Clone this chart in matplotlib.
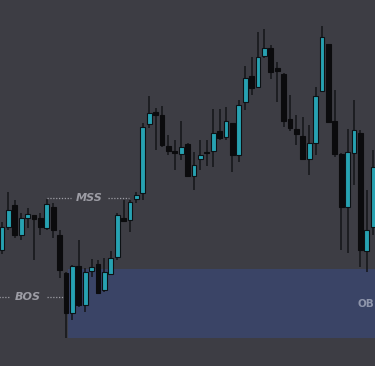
"""Candlestick sketch with MSS / BOS markers and an order block zone."""

import matplotlib
matplotlib.use("Agg")
import matplotlib.pyplot as plt
from matplotlib.patches import Rectangle

# prices in chart units (higher = up)
highs = [144, 174, 166, 153, 158, 151, 153, 167, 163, 136, 94, 101, 126, 98, 107, 106,
         108, 115, 153, 166, 166, 174, 243, 270, 258, 260, 231, 226, 245, 223, 214, 226,
         226, 257, 257, 259, 243, 266, 300, 309, 334, 337, 321, 304, 293, 271, 251, 249,
         241, 279, 340, 322, 276, 213, 237, 266, 236, 176, 216]
lows = [112, 136, 128, 126, 138, 106, 131, 136, 128, 88, 28, 46, 59, 54, 89, 73,
        74, 92, 106, 144, 134, 163, 166, 238, 216, 219, 211, 196, 206, 189, 176, 196,
        200, 199, 226, 226, 194, 204, 256, 271, 278, 308, 287, 264, 239, 235, 221, 206,
        191, 211, 274, 243, 209, 116, 113, 181, 99, 94, 131]
opens = [116, 139, 161, 131, 148, 151, 148, 138, 159, 131, 93, 53, 100, 61, 95, 102,
         76, 92, 109, 148, 146, 167, 173, 242, 254, 251, 220, 215, 212, 222, 190, 207,
         214, 215, 235, 229, 243, 211, 264, 290, 279, 310, 318, 298, 292, 247, 237, 230,
         207, 223, 275, 322, 245, 212, 159, 213, 233, 115, 139]
closes = [139, 156, 131, 148, 152, 147, 139, 162, 136, 96, 53, 100, 61, 94, 99, 73,
          94, 108, 151, 145, 164, 171, 239, 253, 251, 221, 215, 213, 219, 190, 201, 211,
          213, 233, 228, 245, 211, 261, 288, 278, 309, 318, 294, 295, 245, 238, 232, 207,
          223, 270, 329, 244, 212, 159, 214, 236, 116, 136, 199]

# order block zone (chart units)
ob_start = 10.3
ob_top = 97
ob_bottom = 28

mss_level = 168
bos_level = 69

BG = "#3d3d44"
TEAL = "#27a2b2"
BEAR = "#0b0b0d"
EDGE = "#0d1114"
LABEL = "#9d9da5"

fig = plt.figure(figsize=(3.75, 3.66), dpi=100, facecolor=BG)
ax = fig.add_axes([0, 0, 1, 1])
ax.set_facecolor(BG)

n = len(opens)
ax.set_xlim(-0.3125, -0.3125 + 375 / 6.4)
ax.set_ylim(0, 366)

# order block
ax.add_patch(Rectangle((ob_start, ob_bottom), n + 5 - ob_start, ob_top - ob_bottom,
                       facecolor="#3a4466", edgecolor="none", zorder=1))
ax.text(55.6, 62, "OB", color="#8e95ab", fontsize=7.5, fontweight="bold",
        va="center", ha="left", zorder=5)

# candles
w = 0.74
for i in range(n):
    o, c, h, l = opens[i], closes[i], highs[i], lows[i]
    up = c >= o
    ax.vlines(i, l, h, color="#141518", lw=1.1, zorder=3)
    col = TEAL if up else BEAR
    ax.add_patch(Rectangle((i - w / 2, min(o, c)), w, max(abs(c - o), 1.5),
                           facecolor=col, edgecolor=EDGE if up else BEAR,
                           lw=0.8, zorder=4))

# MSS / BOS markers
ax.hlines(mss_level, 7.0, 10.8, colors=LABEL, linestyles=(0, (1, 1.3)), lw=0.9, zorder=5)
ax.hlines(mss_level, 16.6, 19.9, colors=LABEL, linestyles=(0, (1, 1.3)), lw=0.9, zorder=5)
ax.text(13.55, mss_level, "MSS", color=LABEL, fontsize=8, fontweight="bold",
        fontstyle="italic", ha="center", va="center", zorder=5)

ax.hlines(bos_level, -0.4, 1.1, colors=LABEL, linestyles=(0, (1, 1.3)), lw=0.9, zorder=5)
ax.hlines(bos_level, 7.0, 9.6, colors=LABEL, linestyles=(0, (1, 1.3)), lw=0.9, zorder=5)
ax.text(4.0, bos_level, "BOS", color=LABEL, fontsize=8, fontweight="bold",
        fontstyle="italic", ha="center", va="center", zorder=5)

ax.axis("off")
fig.savefig("out.png", dpi=100, facecolor=BG)
